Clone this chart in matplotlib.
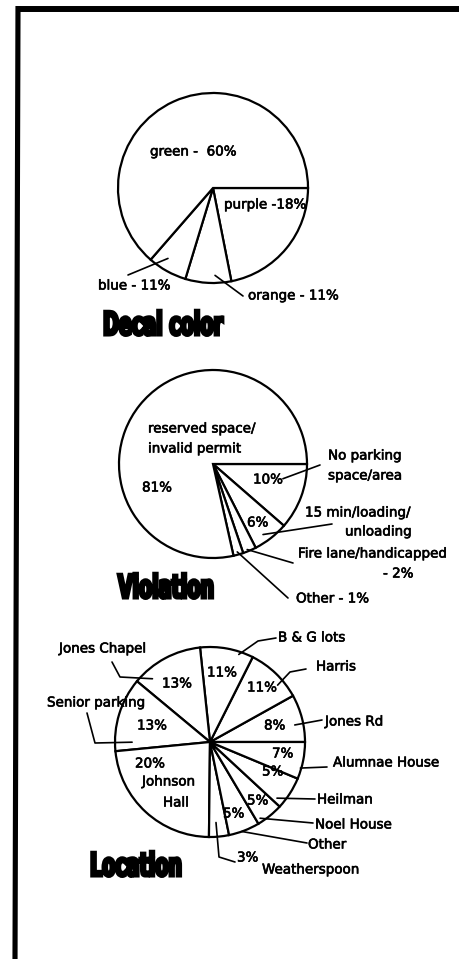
import matplotlib
matplotlib.use('Agg')
import numpy as np
import matplotlib.pyplot as plt
from matplotlib import patheffects
from matplotlib.patheffects import AbstractPathEffect
from matplotlib.transforms import Affine2D

W, H = 459, 959

# ---------------- data (slice sizes, % of circle) ----------------
decal_names = ['purple', 'orange', 'blue', 'green']
decal_pct = ['-18%', '- 11%', '- 11%', '-  60%']
decal_share = [21.9, 7.8, 6.7, 63.6]

violation_names = ['No parking space/area', '15 min/loading/unloading',
                   'Fire lane/handicapped', 'Other', 'reserved space/invalid permit']
violation_pct = ['10%', '6%', '- 2%', '- 1%', '81%']
violation_share = [11.4, 6.1, 2.3, 1.7, 78.5]

location_names = ['Jones Rd', 'Harris', 'B & G lots', 'Jones Chapel', 'Senior parking',
                  'Johnson Hall', 'Weatherspoon', 'Other', 'Noel House', 'Heilman',
                  'Alumnae House']
location_pct = ['8%', '11%', '11%', '13%', '13%', '20%', '3%', '5%', '5%', '5%', '7%']
location_share = [8.1, 9.5, 9.1, 12.3, 12.6, 23.3, 3.4, 5.3, 4.6, 5.6, 6.3]

titles = ['Decal color', 'Violation', 'Location']


# ---------------- helpers ----------------
def Y(py):
    return H - py


class Condense(AbstractPathEffect):
    """Draws text stretched vertically about its baseline, with a heavy outline."""
    def __init__(self, sx, sy, lw):
        super().__init__()
        self.sx, self.sy, self.lw = sx, sy, lw
        self.text = None

    def draw_path(self, renderer, gc, tpath, affine, rgbFace=None):
        x0, y0 = self.text.get_transform().transform(self.text.get_position())
        aff = affine + Affine2D().translate(-x0, -y0).scale(self.sx, self.sy).translate(x0, y0)
        gc0 = renderer.new_gc()
        gc0.copy_properties(gc)
        gc0.set_linewidth(self.lw)
        gc0.set_foreground('black')
        gc0.set_joinstyle('miter')
        renderer.draw_path(gc0, tpath, aff, rgbFace)
        gc0.restore()


fig = plt.figure(figsize=(W / 100, H / 100), dpi=100)
ax = fig.add_axes([0, 0, 1, 1])

EDGE = dict(facecolor='white', edgecolor='black', linewidth=1.6)
decal_w, _ = ax.pie(decal_share, startangle=0, counterclock=False,
                    center=(213, Y(188)), radius=95, wedgeprops=EDGE, frame=True)
viol_w, _ = ax.pie(violation_share, startangle=0, counterclock=False,
                   center=(213, Y(464)), radius=94, wedgeprops=EDGE, frame=True)
loc_w, _ = ax.pie(location_share, startangle=0, counterclock=True,
                  center=(210, Y(742)), radius=95, wedgeprops=EDGE, frame=True)

TXT = dict(fontsize=9.7, family='DejaVu Sans', color='black', va='center', ha='left',
           path_effects=[patheffects.withStroke(linewidth=0.45, foreground='black')])


def label(s, x, y, **kw):
    d = dict(TXT)
    d.update(kw)
    ax.text(x, Y(y), s, **d)


def anchor(w, f, rf):
    a = np.deg2rad(w.theta1 + f * (w.theta2 - w.theta1))
    cx, cy = w.center
    return cx + rf * w.r * np.cos(a), cy + rf * w.r * np.sin(a)


def leader(w, f, rf, pts):
    x0, y0 = anchor(w, f, rf)
    xs = [x0] + [p[0] for p in pts]
    ys = [y0] + [Y(p[1]) for p in pts]
    ax.plot(xs, ys, color='black', lw=1.2, solid_capstyle='round',
            solid_joinstyle='round')


# ---------------- Decal color ----------------
label(f'{decal_names[3]} {decal_pct[3]}', 150, 152)
label(f'{decal_names[0]} {decal_pct[0]}', 224, 205)
label(f'{decal_names[2]} {decal_pct[2]}', 98, 286)
label(f'{decal_names[1]} {decal_pct[1]}', 248, 296)
leader(decal_w[2], 0.35, 0.88, [(128, 275)])
leader(decal_w[1], 0.65, 0.92, [(243, 296)])

# ---------------- Violation ----------------
label('reserved space/', 148, 429)
label('invalid permit', 148, 449)
label(violation_pct[4], 142, 488)
label(violation_pct[0], 253, 480)
label(violation_pct[1], 247, 523)
label('No parking', 328, 456)
label('space/area', 328, 476)
label('15 min/loading/', 305, 513)
label('unloading', 345, 532)
label(violation_names[2], 298, 554)
label(violation_pct[2], 383, 574)
label(f'{violation_names[3]} {violation_pct[3]}', 296, 599)
leader(viol_w[0], 0.71, 0.76, [(320, 465)])
leader(viol_w[1], 0.38, 0.92, [(332, 524)])
leader(viol_w[2], 0.37, 0.98, [(293, 563)])
leader(viol_w[3], 0.46, 0.97, [(288, 598)])

# ---------------- Location ----------------
name_pos = {0: (325, 722), 1: (316, 667), 2: (278, 638), 3: (59, 649), 4: (47, 703),
            7: (308, 845), 8: (315, 825), 9: (317, 800), 10: (333, 763)}
pct_pos = {0: (264, 726), 1: (247, 688), 2: (207, 673), 3: (162, 684), 4: (137, 726),
           5: (135, 764), 6: (237, 858), 7: (223, 814), 8: (247, 801), 9: (262, 772),
           10: (272, 754)}
for i, (x, y) in name_pos.items():
    label(location_names[i], x, y)
for i, (x, y) in pct_pos.items():
    label(location_pct[i], x, y)
jh = location_names[5].split()
label(jh[0], 142, 782)
label(jh[1], 163, 803)
label(location_names[6], 262, 870)

leader(loc_w[2], 0.26, 0.97, [(258, 641), (276, 638)])
leader(loc_w[1], 0.32, 0.93, [(290, 672), (306, 669)])
leader(loc_w[0], 0.39, 0.91, [(322, 720)])
leader(loc_w[10], 0.29, 0.99, [(327, 767)])
leader(loc_w[9], 0.14, 0.92, [(315, 799)])
leader(loc_w[8], 0.16, 0.96, [(313, 823)])
leader(loc_w[7], 0.42, 1.00, [(307, 843)])
leader(loc_w[6], 0.40, 0.85, [(219, 857), (235, 862)])
leader(loc_w[3], 0.82, 0.90, [(120, 677), (112, 662)])
leader(loc_w[4], 0.88, 0.82, [(95, 743), (87, 713)])

# ---------------- titles ----------------
for s, (x, yb) in zip(titles, [(103, 335), (118, 598), (90, 876)]):
    eff = Condense(0.97, 1.65, 2.2)
    t = ax.text(x, Y(yb), s, fontsize=14.2, fontweight='bold', family='DejaVu Sans',
                ha='left', va='baseline', color='black', path_effects=[eff])
    eff.text = t

# ---------------- frame (left and top edges) ----------------
ax.plot([18, 15], [Y(6), Y(959)], color='black', lw=3.7, solid_capstyle='butt')
ax.plot([16, 459], [Y(9), Y(9)], color='black', lw=4.3, solid_capstyle='butt')

ax.set_xlim(0, W)
ax.set_ylim(0, H)
ax.set_aspect('equal')
ax.axis('off')

fig.savefig('out.png', dpi=100, facecolor='white')
